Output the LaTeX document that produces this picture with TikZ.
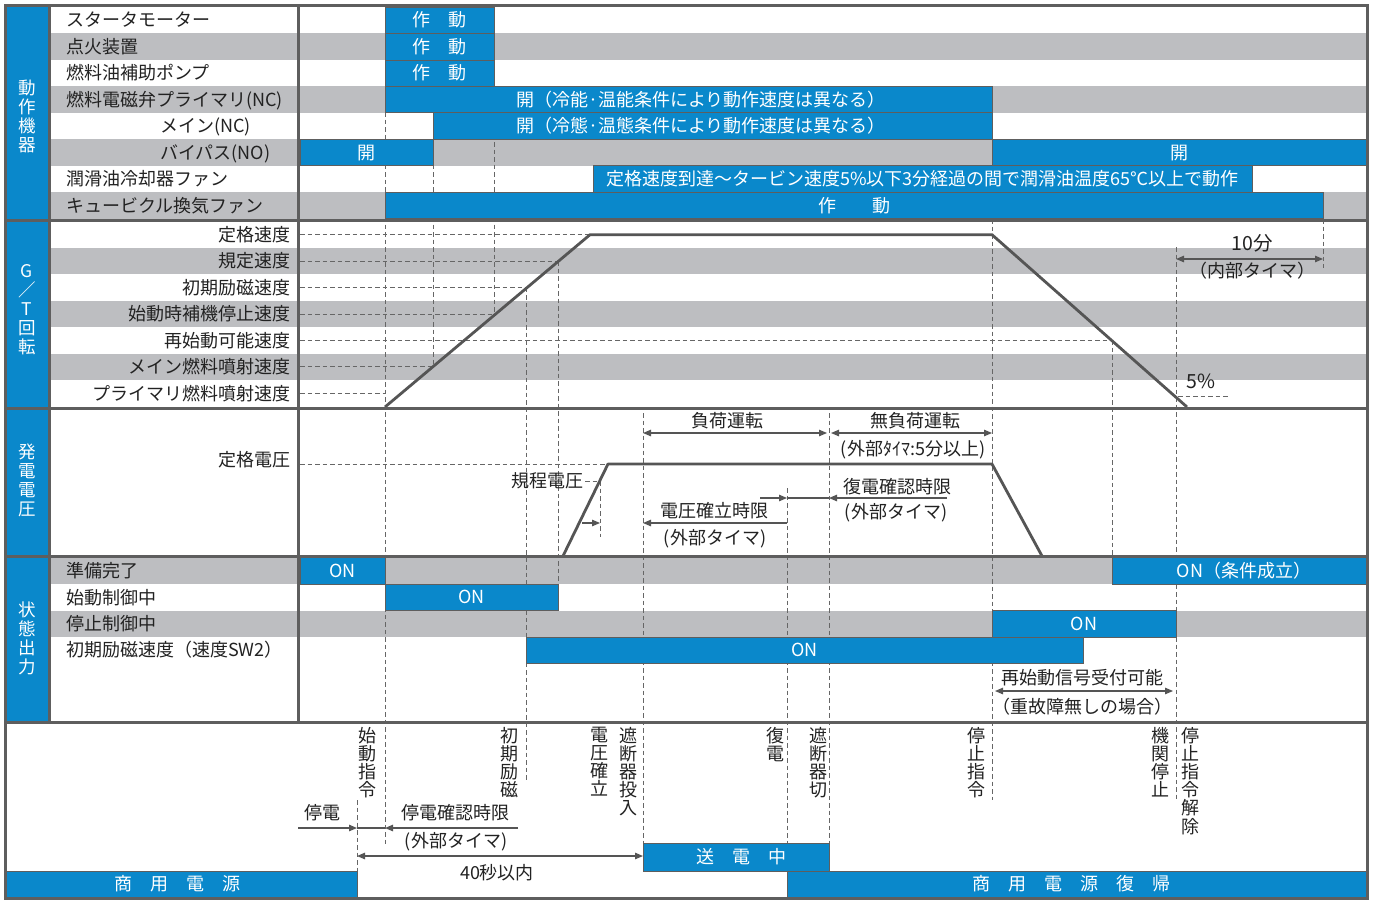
\documentclass[tikz,border=0pt]{standalone}
\usepackage{fontspec}
\setmainfont{Noto Sans CJK JP}
\usetikzlibrary{arrows.meta}
\definecolor{bblue}{HTML}{0A88CB}
\definecolor{rowgray}{HTML}{BDBEC1}
\definecolor{framec}{HTML}{5E5E5E}
\definecolor{ink}{HTML}{222222}
\definecolor{curvec}{HTML}{555555}
\definecolor{dashc}{HTML}{666666}
\newcommand\tbar[6]{%
  \draw[barst] (#1,#2) rectangle (#3,#4);
  \node[wt] (#5) at ({(#1+#3)/2},{(#2+#4)/2}) {#6};}
\newcommand\tbarx[7]{%
  \draw[barst] (#1,#2) rectangle (#3,#4);
  \node[wt] (#5) at (#7,{(#2+#4)/2}) {#6};}
\begin{document}
\begin{tikzpicture}[x=1pt,y=-1pt,
  every node/.style={inner sep=0pt,outer sep=0pt,font=\fontsize{18}{18.5}\selectfont,text=ink,text height=15.4pt,text depth=2pt},
  lbl/.style={anchor=west},
  rlbl/.style={anchor=east},
  wt/.style={text=white},
  barst/.style={fill=bblue,draw=framec,line width=0.8pt},
  grayrow/.style={fill=rowgray},
  dsh/.style={draw=dashc,line width=0.9pt,dash pattern=on 4.5pt off 3pt},
  crv/.style={draw=curvec,line width=2.8pt,line join=round},
  dimr/.style={draw=curvec,line width=1.1pt,-{Triangle[length=8pt,width=6.5pt]}},
  dimb/.style={draw=curvec,line width=1.1pt,{Triangle[length=8pt,width=6.5pt]}-{Triangle[length=8pt,width=6.5pt]}},
  sepl/.style={draw=framec,line width=3pt},
  vtxt/.style={align=center,anchor=north,text height={},text depth={},font=\fontsize{18}{18.2}\selectfont},
  ctxt/.style={align=center,text=white,text height={},text depth={},font=\fontsize{17.5}{19}\selectfont}]
\useasboundingbox (0,0) rectangle (1375,900);
\fill[white] (0,0) rectangle (1375,900);
% gray rows
\foreach \a/\b in {33.4/59.9,86.3/112.8,139.2/165.6,192.1/218.5,247.9/274.4,300.8/327.2,353.6/380.1,557.5/584,610.5/637}
  \fill[grayrow] (49.5,\a) rectangle (1367,\b);
% blue left column
\fill[bblue] (5.5,5.5) rectangle (49.5,722);
% dashed verticals
\draw[dsh] (385,7) -- (385,845);
\draw[dsh] (433,7) -- (433,367);
\draw[dsh] (494,7) -- (494,314);
\draw[dsh] (526,287.6) -- (526,782);
\draw[dsh] (558,261.1) -- (558,584);
\draw[dsh] (600,481) -- (600,537);
\draw[dsh] (643,413) -- (643,843);
\draw[dsh] (787,488) -- (787,871);
\draw[dsh] (829,413) -- (829,843);
\draw[dsh] (992,219) -- (992,800);
\draw[dsh] (1112,340.4) -- (1112,557);
\draw[dsh] (1176,247) -- (1176,800);
\draw[dsh] (1323,219) -- (1323,268);
\draw[dsh] (357,800) -- (357,871);
% dashed horizontals
\draw[dsh] (300,234.7) -- (590,234.7);
\draw[dsh] (300,261.1) -- (558,261.1);
\draw[dsh] (300,287.6) -- (527,287.6);
\draw[dsh] (300,314) -- (495,314);
\draw[dsh] (300,340.4) -- (1112,340.4);
\draw[dsh] (300,366.9) -- (433,366.9);
\draw[dsh] (300,393.3) -- (385,393.3);
\draw[dsh] (300,464) -- (606,464);
\draw[dsh] (585,481) -- (600,481);
\draw[dsh] (1178,396) -- (1230,396);
% speed and voltage curves
\coordinate (s0) at (385,407);
\coordinate (s1) at (590,234.7);
\coordinate (s2) at (992,234.7);
\coordinate (s3) at (1187,407);
\draw[crv] (s0) -- (s1) -- (s2) -- (s3);
\coordinate (v0) at (563,556);
\coordinate (v1) at (608,464);
\coordinate (v2) at (992,464);
\coordinate (v3) at (1042,556);
\draw[crv] (v0) -- (v1) -- (v2) -- (v3);
% bars section 1
\tbar{385}{7}{494}{33.4}{b1}{作　動}
\tbar{385}{33.4}{494}{59.9}{b2}{作　動}
\tbar{385}{59.9}{494}{86.3}{b3}{作　動}
\tbarx{385}{86.3}{992}{112.8}{b4}{開（冷能·温能条件により動作速度は異なる）}{701}
\tbarx{433}{112.8}{992}{139.2}{b5}{開（冷態·温態条件により動作速度は異なる）}{701}
\tbar{300}{139.2}{433}{165.6}{b6}{開}
\tbar{992}{139.2}{1367}{165.6}{b7}{開}
\tbar{593}{165.6}{1252}{192.1}{b8}{定格速度到達～タービン速度5\%以下3分経過の間で潤滑油温度65℃以上で動作}
\tbar{385}{192.1}{1323}{218.5}{b9}{作　　動}
% status bars
\tbar{300}{557.5}{385}{584}{c1}{ON}
\tbarx{1112}{557.5}{1367}{584}{c2}{ON（条件成立）}{1244}
\tbar{385}{584}{558}{610.5}{c3}{ON}
\tbar{992}{610.5}{1176}{637}{c4}{ON}
\tbar{526}{637}{1083}{663.5}{c5}{ON}
% bottom bars
\tbarx{5.5}{871}{357}{897}{d1}{商　用　電　源}{177}
\tbarx{643}{843}{829}{871}{d2}{送　電　中}{741}
\tbarx{787}{871}{1367}{897}{d3}{商　用　電　源　復　帰}{1071}
% grid lines
\draw[framec,line width=2.5pt] (49.5,5.5) -- (49.5,722);
\draw[sepl] (298.5,5.5) -- (298.5,722);
\foreach \yy in {220,408,556.5,722}
  \draw[sepl] (5.5,\yy) -- (1367.5,\yy);
\draw[sepl] (5.5,5.5) rectangle (1367.5,898);
% left column labels
\node[ctxt] (g1) at (27,116) {動\\作\\機\\器};
\node[ctxt] (g2) at (27,310) {G\\／\\T\\回\\転};
\node[ctxt] (g3) at (27,480) {発\\電\\電\\圧};
\node[ctxt] (g4) at (27,638) {状\\態\\出\\力};
% section 1 labels
\node[lbl] (l1) at (66,20.2) {スタータモーター};
\node[lbl] (l2) at (66,46.65) {点火装置};
\node[lbl] (l3) at (66,73.1) {燃料油補助ポンプ};
\node[lbl] (l4) at (66,99.55) {燃料電磁弁プライマリ(NC)};
\node[lbl] (l5) at (160,126) {メイン(NC)};
\node[lbl] (l6) at (160,152.4) {バイパス(NO)};
\node[lbl] (l7) at (66,178.85) {潤滑油冷却器ファン};
\node[lbl] (l8) at (66,205.3) {キュービクル換気ファン};
% section 2 labels
\node[rlbl] (m1) at (290,234.7) {定格速度};
\node[rlbl] (m2) at (290,261.15) {規定速度};
\node[rlbl] (m3) at (290,287.6) {初期励磁速度};
\node[rlbl] (m4) at (290,314) {始動時補機停止速度};
\node[rlbl] (m5) at (290,340.4) {再始動可能速度};
\node[rlbl] (m6) at (290,366.85) {メイン燃料噴射速度};
\node[rlbl] (m7) at (290,393.3) {プライマリ燃料噴射速度};
\node[font=\fontsize{19.5}{20}\selectfont] (t10) at (1252,244) {10分};
\node (t10b) at (1252,271) {（内部タイマ）};
\node[font=\fontsize{19.5}{20}\selectfont] (p5) at (1201,382) {5\%};
\coordinate (a10l) at (1176,259);
\coordinate (a10r) at (1323,259);
\draw[dimb] (a10l) -- (a10r);
% section 3 labels
\node[rlbl] (n1) at (290,460) {定格電圧};
\node (n2) at (727,421) {負荷運転};
\node (n3) at (915,421) {無負荷運転};
\node (n4) at (913,449) {(外部ﾀｲﾏ:5分以上)};
\node[rlbl] (n5) at (583,481) {規程電圧};
\node (n6) at (714,511) {電圧確立時限};
\node (n7) at (715,538) {(外部タイマ)};
\node (n8) at (897,487) {復電確認時限};
\node (n9) at (896,512) {(外部タイマ)};
\coordinate (f0) at (643,433);
\coordinate (f1) at (829,433);
\coordinate (f2) at (992,433);
\draw[dimb] (f0) -- ([xshift=-2pt]f1);
\draw[dimb] ([xshift=2pt]f1) -- (f2);
\coordinate (e0) at (582,523);
\coordinate (e1) at (600,523);
\coordinate (e2) at (643,523);
\coordinate (e3) at (787,523);
\draw[dimr] (e0) -- (e1);
\draw[dimr] (e3) -- (e2);
\coordinate (r0) at (760,498);
\coordinate (r1) at (787,498);
\coordinate (r2) at (829,498);
\coordinate (r3) at (947,498);
\draw[draw=curvec,line width=1.1pt] (r1) -- (r2);
\draw[dimr] (r0) -- (r1);
\draw[dimr] (r3) -- (r2);
% section 4 labels
\node[lbl] (o1) at (66,570.7) {準備完了};
\node[lbl] (o2) at (66,597.3) {始動制御中};
\node[lbl] (o3) at (66,623.7) {停止制御中};
\node[lbl] (o4) at (66,650) {初期励磁速度（速度SW2）};
\node (o5) at (1082,678) {再始動信号受付可能};
\node (o6) at (1082,707) {（重故障無しの場合）};
\coordinate (q0) at (995,691);
\coordinate (q1) at (1173,691);
\draw[dimb] (q0) -- (q1);
% bottom section
\node (u1) at (322,813) {停電};
\node (u2) at (455,813) {停電確認時限};
\node (u3) at (456,841) {(外部タイマ)};
\node (u4) at (497,873) {40秒以内};
\coordinate (h0) at (298,828);
\coordinate (h1) at (357,828);
\coordinate (h2) at (385,828);
\coordinate (h3) at (518,828);
\draw[draw=curvec,line width=1.1pt] (h1) -- (h2);
\draw[dimr] (h0) -- (h1);
\draw[dimr] (h3) -- (h2);
\coordinate (k0) at (357,856);
\coordinate (k1) at (643,856);
\draw[dimb] (k0) -- (k1);
\node[vtxt] (w1) at (367,727) {始\\動\\指\\令};
\node[vtxt] (w2) at (509,727) {初\\期\\励\\磁};
\node[vtxt] (w3) at (599,727) {電\\圧\\確\\立};
\node[vtxt] (w4) at (628,727) {遮\\断\\器\\投\\入};
\node[vtxt] (w5) at (775,727) {復\\電};
\node[vtxt] (w6) at (818,727) {遮\\断\\器\\切};
\node[vtxt] (w7) at (976,727) {停\\止\\指\\令};
\node[vtxt] (w8) at (1160,727) {機\\関\\停\\止};
\node[vtxt] (w9) at (1190,727) {停\\止\\指\\令\\解\\除};
\end{tikzpicture}
\end{document}
